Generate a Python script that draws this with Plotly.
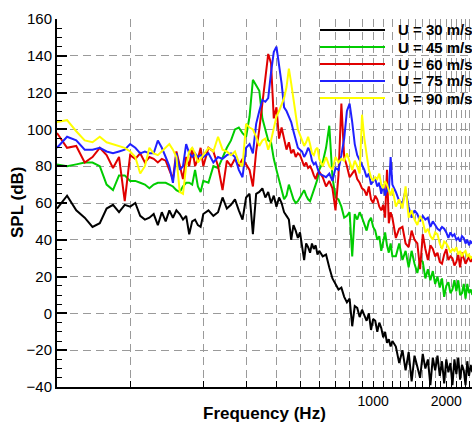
import math
import plotly.graph_objects as go

# Frequency bins (Hz)
FREQ = [50, 55, 60, 65, 70, 75, 80, 85, 90, 95,
        100, 105, 110, 115, 120, 125, 130, 135, 140, 145,
        150, 155, 160, 165, 170, 175, 180, 185, 190, 195, 200,
        210, 220, 230, 240, 250, 260, 270, 280, 290, 300,
        310, 320, 330, 340, 350, 360, 370, 380, 390, 400,
        410, 420, 430, 440, 450, 460, 470, 480, 490, 500,
        510, 520, 530, 540, 550, 560, 570, 580, 590, 600,
        620, 640, 660, 680, 700, 720, 740, 760, 780, 800,
        820, 840, 860, 880, 900, 920, 940, 960, 980, 1000,
        1020, 1040, 1060, 1080, 1100, 1120, 1140, 1160, 1180, 1200,
        1240, 1280, 1320, 1360, 1400, 1440, 1480, 1520, 1560, 1600,
        1640, 1680, 1720, 1760, 1800, 1840, 1880, 1920, 1960, 2000,
        2040, 2080, 2120, 2160, 2200, 2240, 2280, 2320, 2360, 2400,
        2440, 2480, 2520, 2560]

SPL_U30 = [57, 64, 56, 52, 47, 49, 57, 59, 55, 59,
           58, 60, 53, 51, 52, 54, 48, 55, 50, 56,
           52, 56, 54, 51, 53, 43, 50, 51, 48, 47, 54,
           56, 53, 55, 63, 57, 59, 62, 56, 51, 63,
           65, 43, 65, 66, 68, 63, 66, 60, 64, 58,
           63, 60, 55, 53, 51, 40, 48, 45, 41, 44,
           36, 29, 38, 36, 33, 38, 35, 37, 32, 34,
           31, 32, 25, 19, 16, 13, 14, 9, 6, 8,
           -7, 4, 3, -2, 2, -1, -4, 0, -9, -3,
           -4, -10, -5, -8, -13, -10, -16, -14, -18, -15,
           -18, -27, -20, -31, -21, -37, -23, -29, -35, -22,
           -30, -25, -39, -24, -31, -23, -34, -26, -38, -25,
           -32, -27, -39, -25, -33, -24, -36, -28, -31, -39,
           -26, -34, -28, -32]

SPL_U45 = [81, 80, 81, 82, 82, 80, 70, 67, 75, 75,
           72, 72, 71, 70, 68, 70, 71, 71, 71, 70,
           69, 67, 66, 69, 71, 71, 70, 78, 69, 66, 72,
           71, 80, 79, 85, 90, 94, 100, 101, 98, 96,
           107, 127, 124, 121, 106, 100, 94, 93, 84, 78,
           72, 66, 62, 64, 70, 66, 62, 60, 61, 63,
           65, 67, 64, 62, 61, 64, 66, 70, 73, 78,
           82, 90, 102, 74, 63, 62, 58, 52, 53, 55,
           31, 54, 51, 55, 52, 48, 45, 50, 52, 47,
           45, 40, 42, 34, 40, 44, 37, 33, 38, 31,
           31, 38, 29, 34, 25, 34, 27, 22, 29, 28,
           19, 24, 18, 23, 16, 20, 14, 19, 9, 15,
           17, 11, 13, 18, 12, 18, 10, 11, 16, 8,
           16, 11, 13, 10]

SPL_U60 = [98, 90, 91, 82, 85, 90, 86, 79, 85, 61,
           86, 84, 87, 82, 85, 84, 82, 84, 83, 78,
           73, 88, 80, 73, 85, 80, 90, 80, 84, 90, 80,
           90, 88, 80, 67, 83, 80, 84, 80, 84, 81,
           78, 69, 88, 100, 114, 127, 141, 136, 106, 112,
           95, 101, 94, 89, 93, 87, 89, 85, 87, 86,
           83, 80, 82, 79, 80, 78, 75, 73, 76, 77,
           74, 69, 72, 68, 56, 75, 114, 85, 80, 74,
           76, 78, 73, 71, 68, 67, 64, 69, 62, 60,
           64, 62, 58, 56, 59, 52, 78, 49, 55, 52,
           41, 46, 47, 38, 36, 45, 40, 38, 24, 43,
           35, 29, 37, 35, 31, 33, 28, 27, 32, 35,
           29, 31, 30, 26, 28, 32, 25, 33, 30, 27,
           29, 31, 28, 30]

SPL_U75 = [90, 96, 94, 89, 89, 90, 88, 87, 88, 89,
           92, 90, 87, 88, 87, 87, 94, 90, 85, 80,
           71, 87, 78, 80, 92, 87, 85, 87, 85, 86, 85,
           87, 82, 85, 84, 86, 87, 85, 78, 74, 90,
           92, 87, 103, 110, 116, 115, 117, 131, 142, 145,
           136, 125, 112, 110, 107, 104, 99, 95, 90, 89,
           88, 85, 87, 90, 88, 83, 81, 82, 79, 76,
           75, 74, 76, 72, 79, 78, 86, 95, 110, 114,
           104, 92, 86, 83, 80, 78, 74, 76, 70, 72,
           73, 69, 71, 65, 70, 64, 68, 66, 85, 70,
           66, 61, 60, 67, 58, 52, 56, 54, 50, 53,
           51, 52, 47, 50, 48, 46, 45, 47, 46, 44,
           41, 44, 42, 43, 40, 41, 39, 42, 41, 38,
           40, 37, 39, 38]

SPL_U90 = [104, 105, 99, 94, 93, 96, 93, 92, 91, 90,
           88, 85, 76, 80, 90, 87, 86, 88, 90, 92,
           89, 85, 66, 65, 80, 88, 90, 87, 82, 84, 86,
           90, 88, 96, 89, 88, 86, 88, 82, 80, 103,
           101, 100, 96, 91, 94, 95, 89, 94, 101, 107,
           110, 114, 117, 123, 133, 125, 116, 106, 100, 97,
           94, 91, 93, 96, 92, 87, 86, 89, 90, 84,
           80, 85, 80, 78, 85, 82, 84, 83, 87, 82,
           78, 83, 80, 76, 108, 95, 85, 78, 74, 72,
           74, 73, 76, 70, 68, 72, 70, 67, 64, 68,
           58, 62, 57, 69, 52, 56, 51, 48, 53, 50,
           44, 46, 42, 40, 44, 43, 38, 35, 39, 38,
           36, 33, 35, 34, 36, 32, 34, 31, 33, 34,
           31, 32, 30, 31]

SERIES = [SPL_U30, SPL_U45, SPL_U60, SPL_U75, SPL_U90]
LABELS = ["U = 30 m/s", "U = 45 m/s", "U = 60 m/s", "U = 75 m/s", "U = 90 m/s"]
COLORS = ["#000000", "#00cc00", "#e00000", "#2020ff", "#ffff00"]

X_TICKS = [100 * k for k in range(1, 26)]
X_TICKTEXT = ["1000" if v == 1000 else ("2000" if v == 2000 else "") for v in X_TICKS]

FONT = "Liberation Sans, Arial, Helvetica, sans-serif"

fig = go.Figure()
for vals, lab, col in zip(SERIES, LABELS, COLORS):
    fig.add_trace(go.Scatter(x=FREQ, y=vals, mode="lines", name=lab,
                             line=dict(color=col, width=2), showlegend=False))

# plot area geometry (px)
W, H = 472, 422
L, T, B = 57, 19, 35
PW, PH = W - L, H - T - B

def px_x(x):
    return (x - L) / PW

def px_y(y):
    return (H - B - y) / PH

# manual legend (lines + text), partially cut at right edge as in reference
LEG_Y = [30, 47, 64, 81, 98]
for yy, lab, col in zip(LEG_Y, LABELS, COLORS):
    fig.add_shape(type="line", xref="paper", yref="paper",
                  x0=px_x(320), x1=px_x(385), y0=px_y(yy), y1=px_y(yy),
                  line=dict(color=col, width=2))
    fig.add_annotation(xref="paper", yref="paper", x=px_x(396), y=px_y(yy),
                       xanchor="left", yanchor="middle", showarrow=False,
                       text="<b>" + lab + "</b>",
                       font=dict(family=FONT, size=15, color="black"))

fig.add_annotation(xref="paper", yref="paper", x=0.5, y=px_y(413),
                   xanchor="center", yanchor="middle", showarrow=False,
                   text="<b>Frequency (Hz)</b>",
                   font=dict(family=FONT, size=17, color="black"))
fig.add_annotation(xref="paper", yref="paper", x=px_x(17), y=0.5,
                   xanchor="center", yanchor="middle", showarrow=False,
                   textangle=-90, text="<b>SPL (dB)</b>",
                   font=dict(family=FONT, size=17, color="black"))

fig.update_layout(
    width=W, height=H,
    margin=dict(l=L, r=0, t=T, b=B, pad=0),
    paper_bgcolor="white", plot_bgcolor="white",
    showlegend=False,
    font=dict(family=FONT, color="black"),
)

fig.update_xaxes(
    type="log",
    range=[math.log10(50), math.log10(50) + PW / 243.0],
    tickmode="array", tickvals=X_TICKS, ticktext=X_TICKTEXT,
    ticks="inside", ticklen=6, tickwidth=1, tickcolor="black",
    showline=True, linecolor="black", linewidth=2,
    showgrid=True, gridcolor="#9a9a9a", gridwidth=1, griddash="8px,5px",
    tickfont=dict(family=FONT, size=14, color="black"),
    zeroline=False,
)

fig.update_yaxes(
    range=[-40, 160], tick0=0, dtick=20,
    ticks="inside", ticklen=10, tickwidth=1.5, tickcolor="black",
    minor=dict(dtick=5, ticks="inside", ticklen=5, tickwidth=1,
               tickcolor="black", showgrid=False),
    showline=True, linecolor="black", linewidth=2,
    showgrid=True, gridcolor="#9a9a9a", gridwidth=1, griddash="8px,5px",
    tickfont=dict(family=FONT, size=15, color="black"),
    zeroline=False,
)

fig.write_html("out.html")
